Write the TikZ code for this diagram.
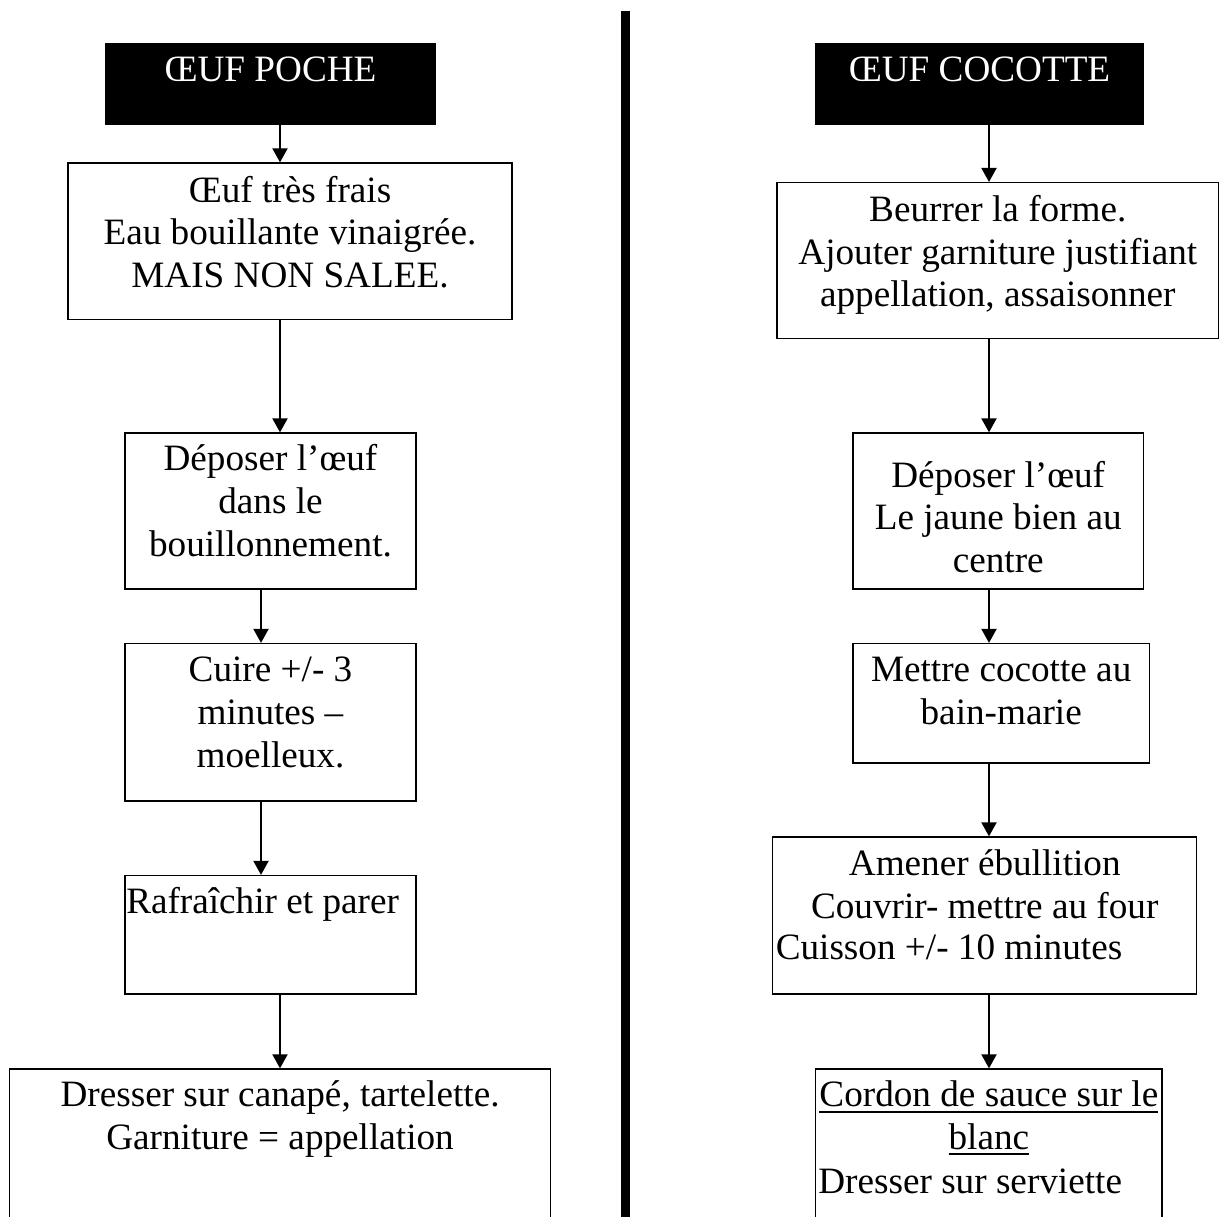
\documentclass[tikz,border=0pt]{standalone}
\usepackage{fontspec}
\setmainfont{Liberation Serif}
\usetikzlibrary{fit,calc,arrows.meta}
\newcommand\myul[1]{\leavevmode\begingroup\sbox0{#1}\rlap{\rule[-3pt]{\wd0}{1pt}}\usebox0\endgroup}
\begin{document}
\begin{tikzpicture}[x=0.5pt,y=-0.5pt,
  box/.style={draw, line width=0.65pt, inner sep=0pt},
  titlebox/.style={fill=black, inner sep=0pt},
  txt/.style={font=\fontsize{18.6}{21.3}\selectfont, text width=280pt, align=flush center, inner sep=0pt, anchor=base},
  ltxt/.style={font=\fontsize{18.6}{21.3}\selectfont, inner sep=0pt, anchor=base west},
  ttxt/.style={font=\fontsize{18.6}{21.3}\selectfont, text=white, inner sep=0pt, anchor=base},
  arr/.style={line width=1pt, -{Triangle[width=7.5pt,length=7pt]}}
]
\useasboundingbox (0,0) rectangle (1223,1217);
\clip (0,0) rectangle (1223,1217);

% divider
\coordinate (divtop) at (625,11);
\coordinate (divbot) at (625,1240);
\draw[line width=4.5pt] (divtop) -- (divbot);

% ---------- left column ----------
\node[titlebox, fit={(105,43) (436,125)}] (L0) {};
\node[ttxt] (L0t) at ($(L0.north)+(0,39)$) {ŒUF POCHE};

\node[box, fit={(68,163) (512,319.5)}] (L1) {};
\node[txt] (L1t) at ($(L1.north)+(0,40)$) {Œuf très frais\\Eau bouillante vinaigrée.\\MAIS NON SALEE.};

\node[box, fit={(125,433) (416,589)}] (L2) {};
\node[txt] (L2t) at ($(L2.north)+(0,38.5)$) {Déposer l’œuf\\dans le\\bouillonnement.};

\node[box, fit={(125,643.5) (416,801)}] (L3) {};
\node[txt] (L3t) at ($(L3.north)+(0,39)$) {Cuire +/- 3\\minutes –\\moelleux.};

\node[box, fit={(125,875.5) (416,994)}] (L4) {};
\node[ltxt] (L4t) at ($(L4.north west)+(1.5,39)$) {Rafraîchir et parer};

\node[box, fit={(9.5,1069) (550.6,1240)}] (L5) {};
\node[txt] (L5t) at ($(L5.north)+(0,38.5)$) {Dresser sur canapé, tartelette.\\Garniture = appellation};

\coordinate (xA) at (280,0);
\coordinate (xB) at (261,0);
\draw[arr] (L0.south -| xA) -- (L1.north -| xA);
\draw[arr] (L1.south -| xA) -- (L2.north -| xA);
\draw[arr] (L2.south -| xB) -- (L3.north -| xB);
\draw[arr] (L3.south -| xB) -- (L4.north -| xB);
\draw[arr] (L4.south -| xA) -- (L5.north -| xA);

% ---------- right column ----------
\node[titlebox, fit={(815,43) (1144,125)}] (R0) {};
\node[ttxt] (R0t) at ($(R0.north)+(0,39)$) {ŒUF COCOTTE};

\node[box, fit={(777,182.6) (1218.6,338.7)}] (R1) {};
\node[txt] (R1t) at ($(R1.north)+(0,39.5)$) {Beurrer la forme.\\Ajouter garniture justifiant\\appellation, assaisonner};

\node[box, fit={(853,433) (1143.5,589)}] (R2) {};
\node[txt] (R2t) at ($(R2.north)+(0,55)$) {Déposer l’œuf\\Le jaune bien au\\centre};

\node[box, fit={(853,643.5) (1149.4,763)}] (R3) {};
\node[txt] (R3t) at ($(R3.north)+(0,39)$) {Mettre cocotte au\\bain-marie};

\node[box, fit={(772.7,837) (1196.8,994)}] (R4) {};
\node[txt] (R4t) at ($(R4.north)+(0,39.5)$) {Amener ébullition\\Couvrir- mettre au four};
\node[ltxt] (R4u) at ($(R4.north west)+(3.3,123.5)$) {Cuisson +/- 10 minutes};

\node[box, fit={(815.8,1069) (1162,1240)}] (R5) {};
\node[txt] (R5t) at ($(R5.north)+(0,38.5)$) {\myul{Cordon de sauce sur le}\\\myul{blanc}};
\node[ltxt] (R5u) at ($(R5.north west)+(2.8,125)$) {Dresser sur serviette};

\coordinate (xR) at (989,0);
\draw[arr] (R0.south -| xR) -- (R1.north -| xR);
\draw[arr] (R1.south -| xR) -- (R2.north -| xR);
\draw[arr] (R2.south -| xR) -- (R3.north -| xR);
\draw[arr] (R3.south -| xR) -- (R4.north -| xR);
\draw[arr] (R4.south -| xR) -- (R5.north -| xR);
\end{tikzpicture}
\end{document}
